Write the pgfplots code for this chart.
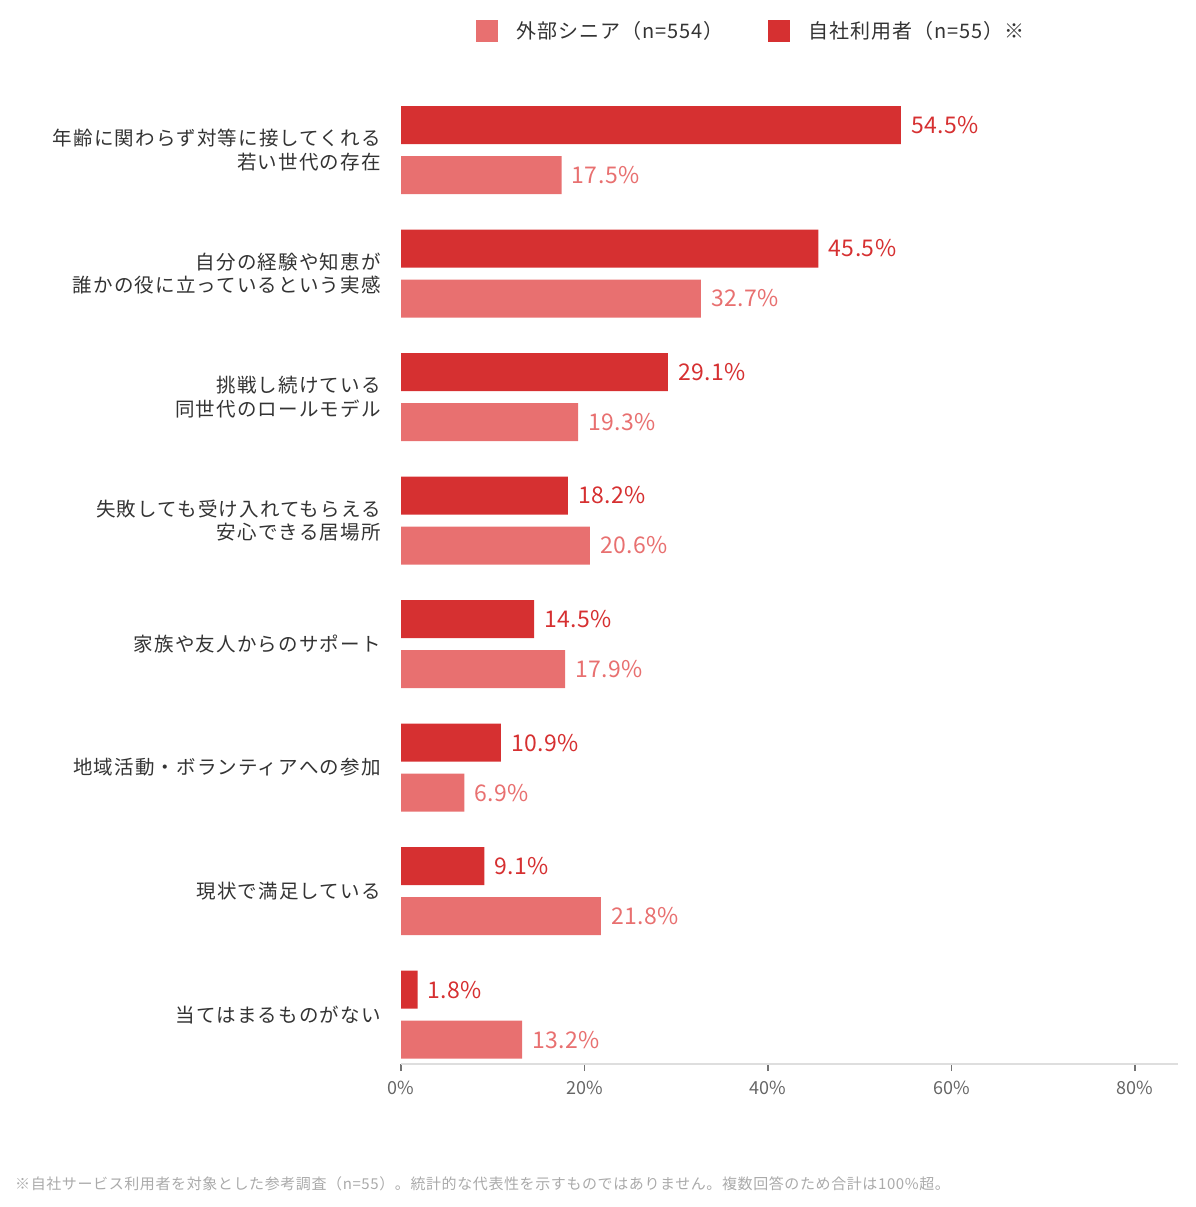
\documentclass[border=0pt]{standalone}
\usepackage{pgfplots}
\pgfplotsset{compat=1.18}
\usepackage{fontspec}
\setmainfont{Noto Sans CJK JP}
\newfontfamily\catfont[LetterSpace=6]{Noto Sans CJK JP}
\newfontfamily\legfont[LetterSpace=5]{Noto Sans CJK JP}
\newfontfamily\notefont[LetterSpace=4]{Noto Sans CJK JP}
\newfontfamily\valfont[LetterSpace=2]{Noto Sans CJK JP}
\definecolor{darkred}{HTML}{D63031}
\definecolor{lightred}{HTML}{E87070}
\definecolor{txt}{HTML}{333333}
\definecolor{tick}{HTML}{666666}
\definecolor{note}{HTML}{AAAAAA}
\begin{document}
\begin{tikzpicture}[x=1pt,y=1pt]
\useasboundingbox (0,0) rectangle (1195,-1207);
\begin{axis}[
  at={(401pt,-1064pt)}, anchor=south west,
  scale only axis, width=777pt, height=975.75pt,
  xbar, bar width=38pt,
  xmin=0, xmax=84.7, ymin=-0.4, ymax=7.5,
  axis x line*=bottom, axis y line*=left,
  y axis line style={draw=none},
  x axis line style={draw=black!13, line width=1.5pt, -},
  xtick={0,20,40,60,80},
  xticklabels={0\%,20\%,40\%,60\%,80\%},
  tick align=outside,
  major tick length=7pt,
  x tick style={draw=black!55, line width=1.5pt},
  y tick style={draw=none},
  xticklabel style={font=\fontsize{18}{20}\selectfont, text=tick, yshift=-7pt},
  ytick={0,1,2,3,4,5,6,7},
  yticklabels={
    当てはまるものがない,
    現状で満足している,
    地域活動・ボランティアへの参加,
    家族や友人からのサポート,
    {失敗しても受け入れてもらえる\\安心できる居場所},
    {挑戦し続けている\\同世代のロールモデル},
    {自分の経験や知恵が\\誰かの役に立っているという実感},
    {年齢に関わらず対等に接してくれる\\若い世代の存在}},
  yticklabel style={align=right, anchor=east, inner sep=0pt, xshift=-13pt,
    font=\catfont\fontsize{19.5}{23.5}\selectfont, text=txt},
  nodes near coords={\pgfmathprintnumber[fixed,fixed zerofill,precision=1,assume math mode=true]{\pgfplotspointmeta}\%},
  point meta=x,
  nodes near coords style={anchor=west, inner sep=0pt, xshift=10pt,
    font=\valfont\fontsize{23}{25}\selectfont},
  clip=false,
]
\addplot[fill=lightred, draw=none, bar shift=-25pt,
  nodes near coords style={text=lightred}] coordinates {
  (17.5,7) (32.7,6) (19.3,5) (20.6,4) (17.9,3) (6.9,2) (21.8,1) (13.2,0)};
\addplot[fill=darkred, draw=none, bar shift=25pt,
  nodes near coords style={text=darkred}] coordinates {
  (54.5,7) (45.5,6) (29.1,5) (18.2,4) (14.5,3) (10.9,2) (9.1,1) (1.8,0)};
\end{axis}
% legend
\fill[lightred] (476,-20) rectangle (498,-42);
\node[anchor=west, inner sep=0pt, text=txt, font=\legfont\fontsize{20}{22}\selectfont] at (516,-31) {外部シニア（n=554）};
\fill[darkred] (768,-20) rectangle (790,-42);
\node[anchor=west, inner sep=0pt, text=txt, font=\legfont\fontsize{20}{22}\selectfont] at (808,-31) {自社利用者（n=55）※};
% footnote
\node[anchor=west, inner sep=0pt, text=note, font=\notefont\fontsize{15}{17}\selectfont] at (15,-1184) {※自社サービス利用者を対象とした参考調査（n=55）。統計的な代表性を示すものではありません。複数回答のため合計は100\%超。};
\end{tikzpicture}
\end{document}
